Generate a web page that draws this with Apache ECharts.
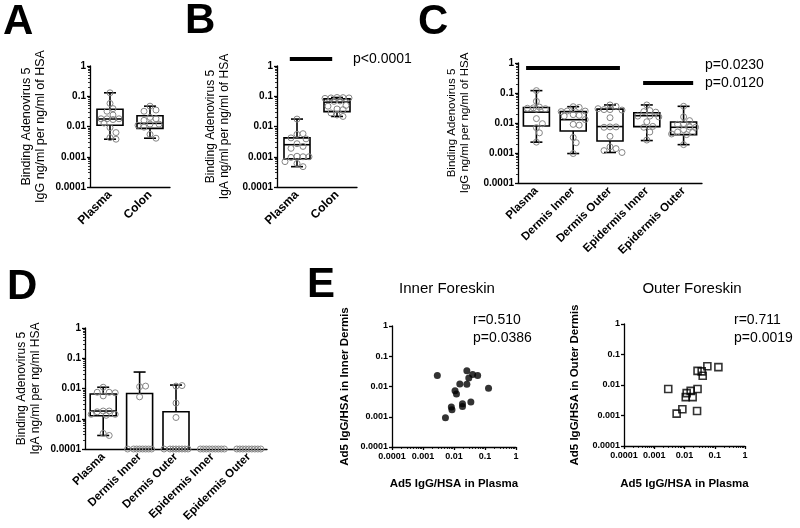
<!DOCTYPE html>
<html><head><meta charset="utf-8">
<script src="https://cdn.jsdelivr.net/npm/echarts/dist/echarts.min.js"></script>
<style>html,body{margin:0;padding:0;background:#fff}#c{width:800px;height:528px}</style>
</head><body><div id="c"></div><script>
// ---------- data ----------
const tickLabels = ['0.0001', '0.001', '0.01', '0.1', '1'];
const catsAB = ['Plasma', 'Colon'];
const catsCD = ['Plasma', 'Dermis Inner', 'Dermis Outer', 'Epidermis Inner', 'Epidermis Outer'];

// box stats: [min, q1, median, q3, max]
const boxA = [[0.0038, 0.011, 0.0177, 0.037, 0.13], [0.0041, 0.0087, 0.0127, 0.0227, 0.047]];
const ptsA_Plasma = [0.13, 0.058, 0.039, 0.032, 0.024, 0.018, 0.018, 0.018, 0.017, 0.013, 0.0092, 0.0063, 0.0043, 0.0038];
const ptsA_Colon = [0.047, 0.035, 0.032, 0.02, 0.018, 0.016, 0.012, 0.012, 0.011, 0.0095, 0.0055, 0.0041];

const boxB = [[0.00047, 0.00085, 0.0025, 0.0042, 0.0176], [0.0215, 0.031, 0.064, 0.082, 0.091]];
const ptsB_Plasma = [0.0176, 0.0055, 0.0058, 0.0042, 0.0039, 0.0027, 0.0022, 0.0019, 0.00104, 0.001, 0.00095, 0.001, 0.00069, 0.0006, 0.00047];
const ptsB_Colon = [0.091, 0.09, 0.088, 0.088, 0.085, 0.07, 0.068, 0.05, 0.047, 0.038, 0.036, 0.028, 0.024, 0.0215];

const boxC = [
  [0.0023, 0.0079, 0.023, 0.033, 0.12],
  [0.00096, 0.0054, 0.0129, 0.024, 0.035],
  [0.00104, 0.0025, 0.0076, 0.029, 0.04],
  [0.0026, 0.0076, 0.0175, 0.022, 0.04],
  [0.0019, 0.0041, 0.0072, 0.0108, 0.036]
];
const ptsC_Plasma = [0.12, 0.053, 0.034, 0.032, 0.03, 0.031, 0.029, 0.014, 0.0095, 0.007, 0.0047, 0.0023];
const ptsC_DermisInner = [0.035, 0.033, 0.025, 0.025, 0.024, 0.019, 0.018, 0.017, 0.013, 0.009, 0.0085, 0.0033, 0.0022, 0.00096];
const ptsC_DermisOuter = [0.04, 0.036, 0.028, 0.027, 0.03, 0.028, 0.015, 0.0074, 0.0074, 0.0072, 0.0036, 0.0016, 0.0014, 0.0012, 0.00104];
const ptsC_EpiInner = [0.04, 0.026, 0.024, 0.023, 0.017, 0.017, 0.016, 0.011, 0.0077, 0.0072, 0.005, 0.0027];
const ptsC_EpiOuter = [0.036, 0.016, 0.012, 0.0095, 0.009, 0.0074, 0.0072, 0.006, 0.005, 0.0048, 0.0043, 0.0041, 0.0019];

// panel D: plasma box, others bar (value) + max whisker; 0.0001 = undetectable
const boxD = [[0.00028, 0.00126, 0.0018, 0.0066, 0.011]];
const barD = [[1, 0.0068, 0.035], [2, 0.0017, 0.013]];
const ptsD_Plasma = [0.011, 0.0075, 0.0075, 0.0072, 0.0057, 0.0018, 0.0018, 0.0017, 0.0014, 0.0014, 0.0013, 0.00033, 0.00028];
const ptsD_DermisInner = [0.0115, 0.012, 0.0053, 0.0001, 0.0001, 0.0001, 0.0001, 0.0001, 0.0001, 0.0001, 0.0001];
const ptsD_DermisOuter = [0.012, 0.0125, 0.0033, 0.0011, 0.0001, 0.0001, 0.0001, 0.0001, 0.0001, 0.0001, 0.0001, 0.0001];
const ptsD_EpiInner = [0.0001, 0.0001, 0.0001, 0.0001, 0.0001, 0.0001, 0.0001, 0.0001, 0.0001];
const ptsD_EpiOuter = [0.0001, 0.0001, 0.0001, 0.0001, 0.0001, 0.0001, 0.0001, 0.0001, 0.0001];

// panel E
const e1Plasma = [0.0029, 0.026, 0.040, 0.058, 0.030, 0.026, 0.0154, 0.130, 0.0108, 0.012, 0.0188, 0.0188, 0.035, 0.0082, 0.0086, 0.0053];
const e1InnerDermis = [0.023, 0.033, 0.025, 0.023, 0.019, 0.0119, 0.0122, 0.0088, 0.0073, 0.0056, 0.0027, 0.0022, 0.0031, 0.0021, 0.0017, 0.00092];
const e2Plasma = [0.0029, 0.027, 0.037, 0.040, 0.057, 0.132, 0.027, 0.016, 0.0118, 0.011, 0.0186, 0.026, 0.0085, 0.0055];
const e2OuterDermis = [0.0074, 0.029, 0.028, 0.020, 0.041, 0.0386, 0.0074, 0.0064, 0.0054, 0.0040, 0.0040, 0.0014, 0.0016, 0.00115];

// significance bars: [anchor category, y value, start offset, end offset] (offsets in category bands)
const sigB = [[0, 1.7, -0.18, 0.88]];
const sigC = [[0, 0.68, -0.28, 2.27], [0, 0.215, 2.9, 4.26]];

// ---------- helpers ----------
const FF = '"Liberation Sans", Arial, Helvetica, sans-serif';
const yMin = 0.0001, yMax = 1;
const fmt = v => tickLabels[Math.round(Math.log10(v)) + 4] || '';

function swarm(values) {
  const placed = [];
  const cands = [0, 3, -3, 6, -6, 9, -9, 12, -12];
  return values.map(v => {
    const y = Math.log10(v) * 30.4;
    let best = 0, bestD = -1;
    for (const dx of cands) {
      let md = Infinity;
      for (const p of placed) md = Math.min(md, Math.hypot(p.x - dx, p.y - y));
      if (md >= 6) { best = dx; bestD = Infinity; break; }
      if (md > bestD) { bestD = md; best = dx; }
    }
    placed.push({ x: best, y });
    return best;
  });
}
function ptsData(groups) {
  const out = [];
  groups.forEach((g, i) => { const off = swarm(g); g.forEach((v, j) => out.push([i, v, off[j]])); });
  return out;
}

const LS = { stroke: '#000', lineWidth: 1.6 };
function renderBox(params, api) {
  const c = api.value(0);
  const pMin = api.coord([c, api.value(1)]), pQ1 = api.coord([c, api.value(2)]),
    pMed = api.coord([c, api.value(3)]), pQ3 = api.coord([c, api.value(4)]), pMax = api.coord([c, api.value(5)]);
  const x = pMin[0], hw = 13, cw = 6;
  return { type: 'group', children: [
    { type: 'line', shape: { x1: x, y1: pQ3[1], x2: x, y2: pMax[1] }, style: LS },
    { type: 'line', shape: { x1: x, y1: pQ1[1], x2: x, y2: pMin[1] }, style: LS },
    { type: 'line', shape: { x1: x - cw, y1: pMax[1], x2: x + cw, y2: pMax[1] }, style: LS },
    { type: 'line', shape: { x1: x - cw, y1: pMin[1], x2: x + cw, y2: pMin[1] }, style: LS },
    { type: 'rect', shape: { x: x - hw, y: pQ3[1], width: 2 * hw, height: pQ1[1] - pQ3[1] }, style: { fill: '#fff', stroke: '#000', lineWidth: 1.6 } },
    { type: 'line', shape: { x1: x - hw, y1: pMed[1], x2: x + hw, y2: pMed[1] }, style: LS }
  ] };
}
function renderBar(params, api) {
  const c = api.value(0);
  const pBase = api.coord([c, yMin]), pTop = api.coord([c, api.value(1)]), pMax = api.coord([c, api.value(2)]);
  const x = pBase[0], hw = 13, cw = 6;
  return { type: 'group', children: [
    { type: 'line', shape: { x1: x, y1: pTop[1], x2: x, y2: pMax[1] }, style: LS },
    { type: 'line', shape: { x1: x - cw, y1: pMax[1], x2: x + cw, y2: pMax[1] }, style: LS },
    { type: 'rect', shape: { x: x - hw, y: pTop[1], width: 2 * hw, height: pBase[1] - pTop[1] }, style: { fill: '#fff', stroke: '#000', lineWidth: 1.6 } }
  ] };
}
function renderPts(params, api) {
  const p = api.coord([api.value(0), api.value(1)]);
  return { type: 'circle', shape: { cx: p[0] + api.value(2), cy: p[1], r: 3 }, style: { fill: 'rgba(255,255,255,0)', stroke: '#858585', lineWidth: 1 } };
}
function renderSig(params, api) {
  const p = api.coord([api.value(0), api.value(1)]);
  const band = api.size([1, 0])[0];
  return { type: 'line', shape: { x1: p[0] + api.value(2) * band, y1: p[1], x2: p[0] + api.value(3) * band, y2: p[1] }, style: { stroke: '#000', lineWidth: 4 } };
}

function yLog(gi, name, gap, nameSize, labelSize, minor, nameBold) {
  return {
    type: 'log', logBase: 10, gridIndex: gi, min: yMin, max: yMax,
    name, nameLocation: 'middle', nameGap: gap, nameRotate: 90,
    nameTextStyle: { fontFamily: FF, fontSize: nameSize, color: '#000', lineHeight: nameSize + 2, fontWeight: nameBold ? 'bold' : 'normal' },
    axisLine: { show: true, onZero: false, lineStyle: { color: '#000', width: 1.3 } },
    axisTick: { show: true, length: 3, lineStyle: { color: '#000', width: 1.3 } },
    minorTick: { show: minor, splitNumber: 9, length: 2, lineStyle: { color: '#000', width: 0.8 } },
    splitLine: { show: false }, minorSplitLine: { show: false },
    axisLabel: { formatter: fmt, fontFamily: FF, fontWeight: 'bold', fontSize: labelSize, color: '#000', margin: 4 }
  };
}
function xCat(gi, data, size) {
  return {
    type: 'category', gridIndex: gi, data, boundaryGap: true,
    axisLine: { onZero: false, lineStyle: { color: '#000', width: 1.3 } },
    axisTick: { alignWithLabel: true, length: 4, lineStyle: { color: '#000', width: 1.3 } },
    axisLabel: { rotate: 45, interval: 0, fontFamily: FF, fontWeight: 'bold', fontSize: size, color: '#000', margin: 6 },
    splitLine: { show: false }
  };
}
function xLog(gi, name, gap) {
  return {
    type: 'log', logBase: 10, gridIndex: gi, min: yMin, max: yMax,
    name, nameLocation: 'middle', nameGap: gap,
    nameTextStyle: { fontFamily: FF, fontSize: 11.5, fontWeight: 'bold', color: '#000' },
    axisLine: { show: true, onZero: false, lineStyle: { color: '#000', width: 1.3 } },
    axisTick: { show: true, length: 3, lineStyle: { color: '#000', width: 1.3 } },
    minorTick: { show: true, splitNumber: 9, length: 2, lineStyle: { color: '#000', width: 0.8 } },
    splitLine: { show: false }, minorSplitLine: { show: false },
    axisLabel: { formatter: fmt, fontFamily: FF, fontWeight: 'bold', fontSize: 9, color: '#000', margin: 5 }
  };
}

const gridArr = [
  { left: 90, top: 66, width: 80, height: 121 },
  { left: 277, top: 66, width: 80, height: 121 },
  { left: 518, top: 63, width: 184, height: 120 },
  { left: 85, top: 328, width: 182, height: 121 },
  { left: 392, top: 326, width: 124, height: 121 },
  { left: 624, top: 324, width: 121, height: 122 }
];
const xAxes = [
  xCat(0, catsAB, 12), xCat(1, catsAB, 12), xCat(2, catsCD, 11.5), xCat(3, catsCD, 11.5),
  xLog(4, 'Ad5 IgG/HSA in Plasma', 31), xLog(5, 'Ad5 IgG/HSA in Plasma', 32)
];
const yAxes = [
  yLog(0, 'Binding Adenovirus 5\nIgG ng/ml per ng/ml of HSA', 42, 12.5, 10, true),
  yLog(1, 'Binding Adenovirus 5\nIgA ng/ml per ng/ml of HSA', 45, 12, 10, true),
  yLog(2, 'Binding Adenovirus 5\nIgG ng/ml per ng/ml of HSA', 46, 11.5, 10, true),
  yLog(3, 'Binding Adenovirus 5\nIgA ng/ml per ng/ml HSA', 42, 12, 10, true),
  yLog(4, 'Ad5 IgG/HSA in Inner Dermis', 40, 11.5, 9, false, true),
  yLog(5, 'Ad5 IgG/HSA in Outer Dermis', 42, 11.5, 9, false, true)
];
const boxEnc = { x: 0, y: [1, 2, 3, 4, 5] };
const ptEnc = { x: 0, y: 1 };
function boxSeries(i, data) { return { type: 'custom', xAxisIndex: i, yAxisIndex: i, renderItem: renderBox, encode: boxEnc, data: data.map((b, j) => [j, ...b]), z: 2 }; }
function ptSeries(i, groups) { return { type: 'custom', xAxisIndex: i, yAxisIndex: i, renderItem: renderPts, encode: ptEnc, data: ptsData(groups), z: 3 }; }
function sigSeries(i, data) { return { type: 'custom', xAxisIndex: i, yAxisIndex: i, renderItem: renderSig, encode: { x: 0, y: 1 }, data, clip: false, z: 4 }; }

const series = [
  boxSeries(0, boxA), ptSeries(0, [ptsA_Plasma, ptsA_Colon]),
  boxSeries(1, boxB), ptSeries(1, [ptsB_Plasma, ptsB_Colon]), sigSeries(1, sigB),
  boxSeries(2, boxC), ptSeries(2, [ptsC_Plasma, ptsC_DermisInner, ptsC_DermisOuter, ptsC_EpiInner, ptsC_EpiOuter]), sigSeries(2, sigC),
  boxSeries(3, boxD),
  { type: 'custom', xAxisIndex: 3, yAxisIndex: 3, renderItem: renderBar, encode: { x: 0, y: [1, 2] }, data: barD, z: 2 },
  ptSeries(3, [ptsD_Plasma, ptsD_DermisInner, ptsD_DermisOuter, ptsD_EpiInner, ptsD_EpiOuter]),
  { type: 'scatter', xAxisIndex: 4, yAxisIndex: 4, symbol: 'circle', symbolSize: 7, itemStyle: { color: '#000' },
    data: e1Plasma.map((x, i) => [x, e1InnerDermis[i]]) },
  { type: 'scatter', xAxisIndex: 5, yAxisIndex: 5, symbol: 'rect', symbolSize: 7, itemStyle: { color: 'rgba(255,255,255,0)', borderColor: '#000', borderWidth: 1.6 },
    data: e2Plasma.map((x, i) => [x, e2OuterDermis[i]]) }
];

function txt(x, y, text, size, bold, align) {
  return { type: 'text', x, y, style: { text, fontFamily: FF, fontSize: size, fontWeight: bold ? 'bold' : 'normal', fill: '#000', align: align || 'left', verticalAlign: 'middle' } };
}
const graphic = [
  txt(3, 22, 'A', 42, true), txt(185, 21, 'B', 42, true), txt(418, 22, 'C', 42, true),
  txt(7, 287, 'D', 42, true), txt(307, 285, 'E', 42, true),
  txt(353, 59, 'p<0.0001', 14), txt(705, 65, 'p=0.0230', 14), txt(705, 83, 'p=0.0120', 14),
  txt(447, 289, 'Inner Foreskin', 15, false, 'center'), txt(692, 289, 'Outer Foreskin', 15, false, 'center'),
  txt(473, 320, 'r=0.510', 14), txt(473, 338, 'p=0.0386', 14),
  txt(734, 320, 'r=0.711', 14), txt(734, 338, 'p=0.0019', 14)
];

const chart = echarts.init(document.getElementById('c'), null, { renderer: 'canvas' });
chart.setOption({ backgroundColor: '#fff', animation: false, grid: gridArr, xAxis: xAxes, yAxis: yAxes, series, graphic });
</script></body></html>
